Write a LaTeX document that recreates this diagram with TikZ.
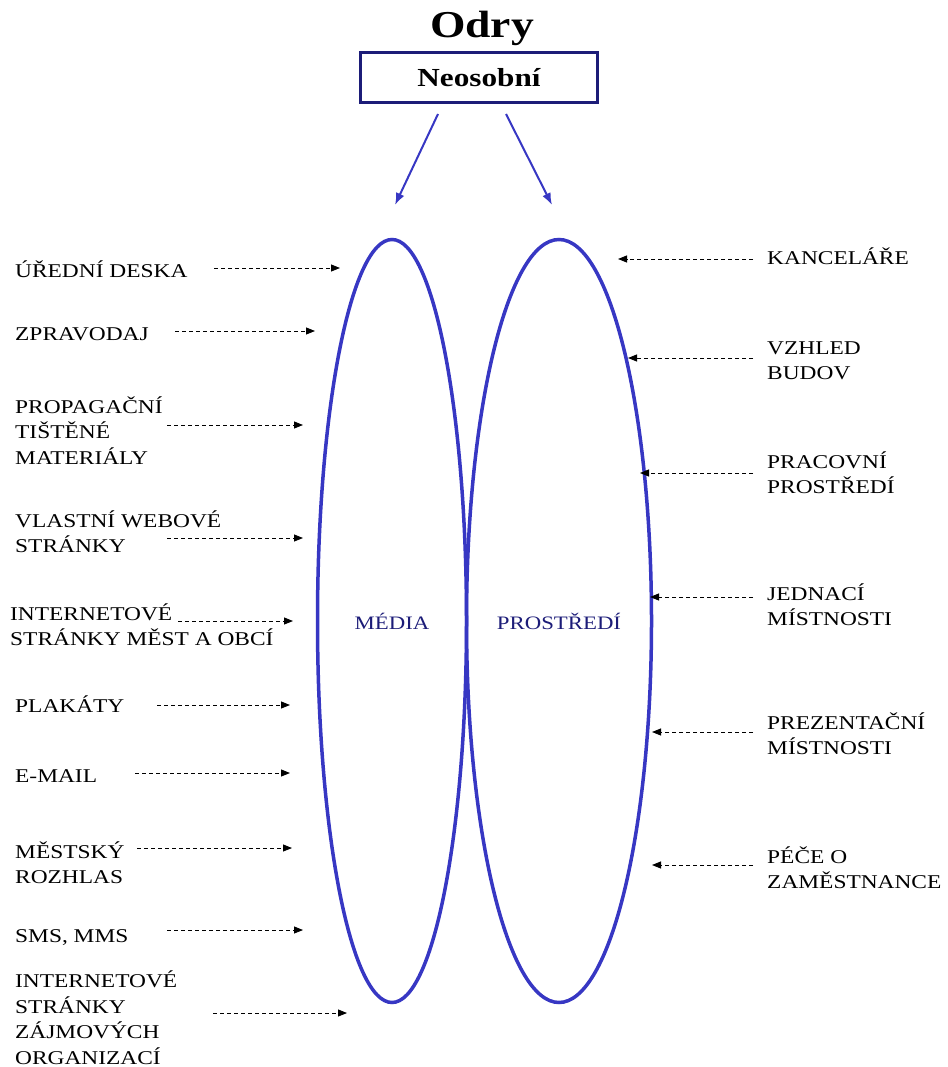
\documentclass[tikz,border=0pt]{standalone}
\usepackage{fontspec}
\setmainfont[FakeStretch=1.2]{Liberation Serif}
\usetikzlibrary{arrows.meta, shapes.geometric}
\definecolor{ovalblue}{RGB}{55,55,195}
\definecolor{navy}{RGB}{28,28,120}
\tikzset{
  lbl/.style={anchor=base west, inner sep=0pt, align=left, font=\fontsize{19.5}{25.5}\selectfont},
  ptr/.style={line width=0.9pt, dash pattern=on 4pt off 3pt, -{Triangle[length=9pt,width=7pt]}},
  oval/.style={ellipse, draw=ovalblue, line width=3.5pt, minimum width=149pt, minimum height=763pt, text=navy, font=\fontsize{19}{21}\selectfont},
  split/.style={draw=ovalblue, line width=2pt, -{Latex[length=12pt,width=9pt]}}
}
\begin{document}
\begin{tikzpicture}[x=1pt,y=-1pt]
\useasboundingbox (0,0) rectangle (947,1067);

% title and box
\node[anchor=base, font=\bfseries\fontsize{38}{40}\selectfont] (odry) at (482,38) {Odry};
\node[draw=navy, line width=3pt, minimum width=237pt, minimum height=50pt, font=\bfseries\fontsize{26}{28}\selectfont] (neos) at (479,77.5) {Neosobní};

\coordinate (s1) at (438,114); \coordinate (t1) at (395,205);
\coordinate (s2) at (506,114); \coordinate (t2) at (552,205);
\draw[split] (s1) -- (t1);
\draw[split] (s2) -- (t2);

% the two ovals
\node[oval] (media) at (392,621) {MÉDIA};
\node[oval] (prostr) at (559,621) {PROSTŘEDÍ};

% media (base = last line)
\node[lbl] (m1) at (15,277) {ÚŘEDNÍ DESKA};
\node[lbl] (m2) at (15,340) {ZPRAVODAJ};
\node[lbl] (m3) at (15,464) {PROPAGAČNÍ\\TIŠTĚNÉ\\MATERIÁLY};
\node[lbl] (m4) at (15,552.5) {VLASTNÍ WEBOVÉ\\STRÁNKY};
\node[lbl] (m5) at (10,645.5) {INTERNETOVÉ\\STRÁNKY MĚST A OBCÍ};
\node[lbl] (m6) at (15,712) {PLAKÁTY};
\node[lbl] (m7) at (15,782) {E-MAIL};
\node[lbl] (m8) at (15,883.5) {MĚSTSKÝ\\ROZHLAS};
\node[lbl] (m9) at (15,942) {SMS, MMS};
\node[lbl] (m10) at (15,1064) {INTERNETOVÉ\\STRÁNKY\\ZÁJMOVÝCH\\ORGANIZACÍ};

\coordinate (m1a) at (214,268); \coordinate (m1b) at (340,268);
\coordinate (m2a) at (175,331); \coordinate (m2b) at (315,331);
\coordinate (m3a) at (167,425); \coordinate (m3b) at (303,425);
\coordinate (m4a) at (167,538); \coordinate (m4b) at (303,538);
\coordinate (m5a) at (178,621); \coordinate (m5b) at (293,621);
\coordinate (m6a) at (157,705); \coordinate (m6b) at (290,705);
\coordinate (m7a) at (135,773); \coordinate (m7b) at (290,773);
\coordinate (m8a) at (137,848); \coordinate (m8b) at (292,848);
\coordinate (m9a) at (167,930); \coordinate (m9b) at (303,930);
\coordinate (m10a) at (213,1013); \coordinate (m10b) at (347,1013);
\draw[ptr] (m1a) -- (m1b);
\draw[ptr] (m2a) -- (m2b);
\draw[ptr] (m3a) -- (m3b);
\draw[ptr] (m4a) -- (m4b);
\draw[ptr] (m5a) -- (m5b);
\draw[ptr] (m6a) -- (m6b);
\draw[ptr] (m7a) -- (m7b);
\draw[ptr] (m8a) -- (m8b);
\draw[ptr] (m9a) -- (m9b);
\draw[ptr] (m10a) -- (m10b);

% prostredi
\node[lbl] (p1) at (767,264) {KANCELÁŘE};
\node[lbl] (p2) at (767,379.5) {VZHLED\\BUDOV};
\node[lbl] (p3) at (767,493.5) {PRACOVNÍ\\PROSTŘEDÍ};
\node[lbl] (p4) at (767,625.5) {JEDNACÍ\\MÍSTNOSTI};
\node[lbl] (p5) at (767,754.5) {PREZENTAČNÍ\\MÍSTNOSTI};
\node[lbl] (p6) at (767,888.5) {PÉČE O\\ZAMĚSTNANCE};

\coordinate (p1a) at (753,259); \coordinate (p1b) at (618,259);
\coordinate (p2a) at (753,358); \coordinate (p2b) at (628,358);
\coordinate (p3a) at (753,473); \coordinate (p3b) at (640,473);
\coordinate (p4a) at (753,597); \coordinate (p4b) at (650,597);
\coordinate (p5a) at (753,732); \coordinate (p5b) at (652,732);
\coordinate (p6a) at (753,865); \coordinate (p6b) at (652,865);
\draw[ptr] (p1a) -- (p1b);
\draw[ptr] (p2a) -- (p2b);
\draw[ptr] (p3a) -- (p3b);
\draw[ptr] (p4a) -- (p4b);
\draw[ptr] (p5a) -- (p5b);
\draw[ptr] (p6a) -- (p6b);
\end{tikzpicture}
\end{document}
